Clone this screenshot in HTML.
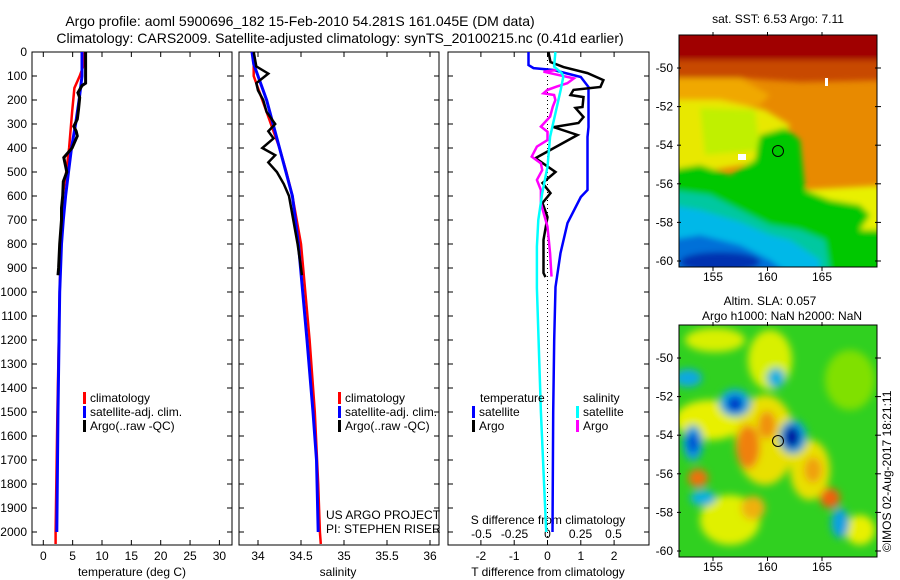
<!DOCTYPE html>
<html><head><meta charset="utf-8"><style>
html,body{margin:0;padding:0;background:#fff;}
svg{display:block;font-family:"Liberation Sans",sans-serif;}
</style></head><body>
<svg id="fig" width="900" height="580" viewBox="0 0 900 580" xmlns="http://www.w3.org/2000/svg">
<defs>
<filter id="blur6" x="-20%" y="-20%" width="140%" height="140%"><feGaussianBlur stdDeviation="4"/></filter>
<filter id="blur3" x="-20%" y="-20%" width="140%" height="140%"><feGaussianBlur stdDeviation="3"/></filter>
<clipPath id="clipTop"><rect x="679" y="35" width="198" height="232"/></clipPath>
<clipPath id="clipBot"><rect x="679" y="325" width="198" height="232"/></clipPath>
</defs>
<text x="300" y="26" font-size="14" text-anchor="middle">Argo profile: aoml 5900696_182 15-Feb-2010 54.281S 161.045E (DM data)</text>
<text x="340" y="43" font-size="14" text-anchor="middle">Climatology: CARS2009. Satellite-adjusted climatology: synTS_20100215.nc (0.41d earlier)</text>

<g id="p1"></g>
<g id="p2"></g>
<g id="p3"></g>

<g>
<text x="778" y="23" font-size="12" text-anchor="middle">sat. SST: 6.53 Argo: 7.11</text>
<g clip-path="url(#clipTop)">
<rect x="679" y="35" width="198" height="232" fill="#e88a00"/>
<g filter="url(#blur3)">
<rect x="670" y="25" width="220" height="40" fill="#a00000"/>
<path d="M670 60 L890 60 L890 80 L800 82 L740 78 L670 78 Z" fill="#c84800"/>
<path d="M670 78 L740 78 L770 95 L760 105 L700 110 L670 110 Z" fill="#f0a800"/>
<path d="M670 100 L720 100 L765 110 L790 125 L775 160 L700 172 L670 172 Z" fill="#e8e800"/>
<path d="M700 108 L755 110 L760 150 L705 155 Z" fill="#c0f000"/>
<path d="M800 190 L890 185 L890 240 L840 235 L810 215 Z" fill="#e8f000"/>
<path d="M670 170 L700 165 L730 175 L755 160 L760 135 L785 128 L800 140 L805 190 L830 200 L860 205 L870 215 L860 230 L890 230 L890 280 L670 280 Z" fill="#00c800"/>
<path d="M670 190 L710 195 L740 210 L770 225 L800 230 L825 240 L830 270 L670 270 Z" fill="#00c8a0"/>
<path d="M670 205 L700 210 L740 222 L770 235 L790 240 L820 260 L820 275 L670 275 Z" fill="#00b8e8"/>
<path d="M670 240 L700 235 L740 245 L770 260 L790 275 L670 275 Z" fill="#0070d8"/>
<ellipse cx="720" cy="262" rx="40" ry="10" fill="#0030b0"/>
</g>
<rect x="738" y="154" width="8" height="6" fill="#fff"/>
<rect x="825" y="78" width="3" height="8" fill="#fff"/>
<circle cx="778" cy="151" r="5.5" fill="none" stroke="#000" stroke-width="1"/>
</g>
<rect x="679" y="35" width="198" height="232" fill="none" stroke="#000"/>
<g id="mapTopAxes"></g>
</g>

<g>
<text x="770" y="305" font-size="12" text-anchor="middle">Altim. SLA: 0.057</text>
<text x="782" y="320" font-size="12" text-anchor="middle">Argo h1000: NaN h2000: NaN</text>
<g clip-path="url(#clipBot)">
<rect x="679" y="325" width="198" height="232" fill="#30d020"/>
<g filter="url(#blur6)">
<ellipse cx="715" cy="340" rx="30" ry="12" fill="#d8f000"/>
<ellipse cx="770" cy="360" rx="22" ry="30" fill="#d8f000"/>
<ellipse cx="710" cy="420" rx="35" ry="20" fill="#e8f000"/>
<ellipse cx="765" cy="440" rx="30" ry="45" fill="#e8e000"/>
<ellipse cx="810" cy="470" rx="20" ry="30" fill="#e8e000"/>
<ellipse cx="850" cy="380" rx="25" ry="30" fill="#80e000"/>
<ellipse cx="730" cy="520" rx="30" ry="25" fill="#e0f000"/>
<ellipse cx="860" cy="530" rx="15" ry="15" fill="#e8f000"/>
<ellipse cx="688" cy="378" rx="14" ry="9" fill="#10a8e0"/>
<ellipse cx="735" cy="403" rx="16" ry="14" fill="#10a8e0"/>
<ellipse cx="735" cy="404" rx="8" ry="8" fill="#0030c8"/>
<ellipse cx="776" cy="378" rx="9" ry="10" fill="#10b0e0"/>
<ellipse cx="693" cy="443" rx="10" ry="18" fill="#10a0e0"/>
<ellipse cx="693" cy="443" rx="5" ry="10" fill="#0040d0"/>
<ellipse cx="793" cy="437" rx="14" ry="17" fill="#10a0e0"/>
<ellipse cx="792" cy="437" rx="8" ry="11" fill="#0010a0"/>
<ellipse cx="748" cy="447" rx="12" ry="22" fill="#f08010"/>
<ellipse cx="767" cy="425" rx="9" ry="14" fill="#f09010"/>
<ellipse cx="698" cy="478" rx="10" ry="9" fill="#f07010"/>
<ellipse cx="813" cy="470" rx="9" ry="13" fill="#f0a010"/>
<ellipse cx="830" cy="498" rx="10" ry="10" fill="#f06010"/>
<ellipse cx="753" cy="508" rx="12" ry="12" fill="#f0b010"/>
<ellipse cx="703" cy="498" rx="13" ry="8" fill="#10b0e0"/>
<ellipse cx="840" cy="523" rx="9" ry="15" fill="#10a0e0"/>
</g>
<circle cx="778" cy="441" r="5.5" fill="none" stroke="#000" stroke-width="1"/>
</g>
<rect x="679" y="325" width="198" height="232" fill="none" stroke="#000"/>
<g id="mapBotAxes"></g>
</g>
<text transform="translate(891,552) rotate(-90)" font-size="12">©IMOS 02-Aug-2017 18:21:11</text>
<text x="326" y="519" font-size="12">US ARGO PROJECT</text>
<text x="326" y="533" font-size="12">PI: STEPHEN RISER</text>
</svg>
<script>
const depthTicks = [0,100,200,300,400,500,600,700,800,900,1000,1100,1200,1300,1400,1500,1600,1700,1800,1900,2000];
const tempTicks = [0,5,10,15,20,25,30];
const salTicks = [34,34.5,35,35.5,36];
const salTickLabels = ["34","34.5","35","35.5","36"];
const tdiffTicks = [-2,-1,0,1,2];
const sdiffTicks = [-0.5,-0.25,0,0.25,0.5];
const sdiffTickLabels = ["-0.5","-0.25","0","0.25","0.5"];

const climTDepth = [0,60,100,150,250,400,500,600,800,1000,1500,2000,2050];
const climT = [6.9,6.8,6.2,5.3,4.9,4.4,3.9,3.3,3.0,2.8,2.4,2.1,2.1];
const satTDepth = [0,100,200,300,400,500,600,700,800,1000,1500,2000];
const satT = [6.6,6.6,6.1,5.5,4.8,4.3,3.8,3.4,3.1,2.8,2.5,2.3];
const argoTDepth = [0,130,140,170,190,240,280,310,330,350,400,440,500,540,600,650,700,800,900,930];
const argoT = [7.2,7.2,6.6,5.9,6.2,6.0,5.8,5.2,5.6,5.8,4.9,3.5,4.0,3.4,3.3,3.1,3.1,2.8,2.6,2.5];

const climSDepth = [0,100,200,300,400,500,600,700,800,1000,1200,1500,1800,2000,2050];
const climS = [33.95,33.95,34.05,34.15,34.25,34.33,34.4,34.45,34.5,34.55,34.6,34.66,34.7,34.72,34.73];
const satSDepth = [0,50,100,200,400,600,800,1000,1200,1500,1700,2000];
const satS = [33.93,33.95,34.0,34.1,34.25,34.4,34.47,34.52,34.57,34.64,34.68,34.7];
const argoSDepth = [0,60,90,110,130,160,200,250,300,330,360,400,430,460,500,550,600,700,800,900,930];
const argoS = [33.95,33.98,34.12,34.05,33.98,34.0,34.06,34.1,34.2,34.12,34.18,34.05,34.2,34.12,34.22,34.3,34.36,34.41,34.46,34.5,34.51];

const dSatTDepth = [0,54,67,75,104,146,313,354,575,604,713,838,979,1200,1500,2000];
const dSatT = [-0.57,-0.57,-0.42,0.18,1.0,1.23,1.23,1.2,1.2,1.0,0.6,0.39,0.24,0.2,0.17,0.15];
const dArgoTDepth = [0,42,63,88,117,146,158,179,188,229,233,271,296,313,346,408,442,500,546,588,629,688,783,921,938];
const dArgoT = [0.03,0.09,0.48,1.2,1.68,1.59,0.78,0.69,1.08,1.05,0.84,1.08,0.93,0.18,0.9,0.09,-0.36,0.24,-0.15,0.09,-0.15,0,-0.12,-0.12,-0.06];
const dSatSDepth = [0,61,89,103,158,256,353,478,589,700,811,983,1500,2000];
const dSatS = [0.06,0.05,0.11,0.12,0.1,0.06,0.02,0,-0.04,-0.07,-0.08,-0.08,-0.05,-0.01];
const dArgoSDepth = [75,82,110,130,144,158,172,179,200,228,269,311,332,367,394,436,464,492,533,575,631,728,839,936];
const dArgoS = [0.07,-0.03,0.2,0.15,0.07,0,-0.03,0.05,0.06,0.04,0.02,-0.05,0,0,-0.08,-0.12,-0.05,-0.04,-0.08,-0.05,-0.05,0,0.02,0.03];

const latTicks = [-50,-52,-54,-56,-58,-60];
const lonTicks = [155,160,165];

const NS = "http://www.w3.org/2000/svg";
function mk(tag, attrs, parent){ const e=document.createElementNS(NS,tag); for(const k in attrs) e.setAttribute(k,attrs[k]); parent.appendChild(e); return e; }
const yD = d => 52 + d*0.24;
const PB = 545;

function frame(g, x0, x1, name){
  const r = mk('rect',{x:x0,y:52,width:x1-x0,height:PB-52,fill:'none',stroke:'#000','stroke-width':1},g);
  
  
  depthTicks.forEach(d=>{
    const y=yD(d);
    const t1=mk('line',{x1:x0,x2:x0+5,y1:y,y2:y,stroke:'#000'},g);
    
    
    const t2=mk('line',{x1:x1-5,x2:x1,y1:y,y2:y,stroke:'#000'},g);
    
    
  });
}
function xticks(g, vals, labels, sx, ly, top, bottom){
  vals.forEach((v,i)=>{
    const x=sx(v);
    if(top){ const t=mk('line',{x1:x,x2:x,y1:52,y2:57,stroke:'#000'},g);
      
       }
    if(bottom){ const t=mk('line',{x1:x,x2:x,y1:PB-5,y2:PB,stroke:'#000'},g);
      
       }
    const tx=mk('text',{x:x,y:ly,'font-size':12,'text-anchor':'middle'},g);
    tx.textContent=labels?labels[i]:String(v);
    
    
  });
}
function line(g, xs, ds, sx, color, w, name){
  const pts = xs.map((v,i)=>sx(v).toFixed(1)+','+yD(ds[i]).toFixed(1)).join(' ');
  const p=mk('polyline',{points:pts,fill:'none',stroke:color,'stroke-width':w,'stroke-linejoin':'miter'},g);
  
  
}
function legendItem(g,x,y,color,label,name){
  const b=mk('rect',{x:x,y:y-10,width:3,height:12,fill:color},g);
  
  
  const t=mk('text',{x:x+7,y:y,'font-size':12},g);
  t.textContent=label;
  
  
}

const g1=document.getElementById('p1');
const sxT = v => 43.3 + v*5.87;
frame(g1,32,232,'temperature-panel');
depthTicks.forEach(d=>{ const t=mk('text',{x:27,y:yD(d)+4,'font-size':12,'text-anchor':'end'},g1); t.textContent=String(d);
  
   });
xticks(g1,tempTicks,null,sxT,560,true,true);
let xl=mk('text',{x:132,y:576,'font-size':12,'text-anchor':'middle'},g1); xl.textContent='temperature (deg C)';


line(g1,climT,climTDepth,sxT,'#ff0000',2.5,'climatology-temperature-line');
line(g1,satT,satTDepth,sxT,'#0000ff',3,'satellite-temperature-line');
line(g1,argoT,argoTDepth,sxT,'#000000',3,'argo-temperature-line');
legendItem(g1,83,402,'#ff0000','climatology','legend-climatology');
legendItem(g1,83,416,'#0000ff','satellite-adj. clim.','legend-satellite');
legendItem(g1,83,430,'#000000','Argo(..raw -QC)','legend-argo');

const g2=document.getElementById('p2');
const sxS = v => 258 + (v-34)*86;
frame(g2,239,439,'salinity-panel');
xticks(g2,salTicks,salTickLabels,sxS,560,true,true);
xl=mk('text',{x:338,y:576,'font-size':12,'text-anchor':'middle'},g2); xl.textContent='salinity';


line(g2,climS,climSDepth,sxS,'#ff0000',2.5,'climatology-salinity-line');
line(g2,satS,satSDepth,sxS,'#0000ff',3,'satellite-salinity-line');
line(g2,argoS,argoSDepth,sxS,'#000000',2.5,'argo-salinity-line');
legendItem(g2,338,402,'#ff0000','climatology','legend-climatology');
legendItem(g2,338,416,'#0000ff','satellite-adj. clim.','legend-satellite');
legendItem(g2,338,430,'#000000','Argo(..raw -QC)','legend-argo');

const g3=document.getElementById('p3');
const sxDT = v => 547.5 + v*33.3;
const sxDS = v => 547.5 + v*132;
frame(g3,448,649,'difference-panel');
xticks(g3,tdiffTicks,null,sxDT,560,true,true);
xticks(g3,sdiffTicks,sdiffTickLabels,sxDS,538,false,false);
let zl=mk('line',{x1:547.5,x2:547.5,y1:52,y2:PB,stroke:'#000','stroke-dasharray':'1,3'},g3);


xl=mk('text',{x:548,y:576,'font-size':12,'text-anchor':'middle'},g3); xl.textContent='T difference from climatology';


xl=mk('text',{x:548,y:524,'font-size':12,'text-anchor':'middle'},g3); xl.textContent='S difference from climatology';


line(g3,dSatT,dSatTDepth,sxDT,'#0000ff',2.5,'satellite-t-diff-line');
line(g3,dArgoT,dArgoTDepth,sxDT,'#000000',2.5,'argo-t-diff-line');
line(g3,dArgoS,dArgoSDepth,sxDS,'#ff00ff',2.5,'argo-s-diff-line');
line(g3,dSatS,dSatSDepth,sxDS,'#00ffff',2.5,'satellite-s-diff-line');
let lt=mk('text',{x:480,y:402,'font-size':12},g3); lt.textContent='temperature';


lt=mk('text',{x:583,y:402,'font-size':12},g3); lt.textContent='salinity';


legendItem(g3,472,416,'#0000ff','satellite','legend-t-satellite');
legendItem(g3,472,430,'#000000','Argo','legend-t-argo');
legendItem(g3,576,416,'#00ffff','satellite','legend-s-satellite');
legendItem(g3,576,430,'#ff00ff','Argo','legend-s-argo');

function mapAxes(id, top){
  const g=document.getElementById(id);
  const bottom=top+232;
  const yL = lat => top + 33 + (-50-lat)*19.3;
  const xL = lon => 713 + (lon-155)*10.9;
  latTicks.forEach(l=>{
    const y=yL(l);
    const t=mk('line',{x1:677,x2:681,y1:y,y2:y,stroke:'#000'},g);
    
    
    const t2=mk('line',{x1:875,x2:881,y1:y,y2:y,stroke:'#000'},g);
    
    
    const tx=mk('text',{x:673,y:y+4,'font-size':12,'text-anchor':'end'},g); tx.textContent=String(l);
    
    
  });
  lonTicks.forEach(l=>{
    const x=xL(l);
    const t=mk('line',{x1:x,x2:x,y1:top-3,y2:top+1,stroke:'#000'},g);
    
    
    const t2=mk('line',{x1:x,x2:x,y1:bottom,y2:bottom+4,stroke:'#000'},g);
    
    
    const tx=mk('text',{x:x,y:bottom+14,'font-size':12,'text-anchor':'middle'},g); tx.textContent=String(l);
    
    
  });
}
mapAxes('mapTopAxes',35);
mapAxes('mapBotAxes',325);
</script>
</body></html>
